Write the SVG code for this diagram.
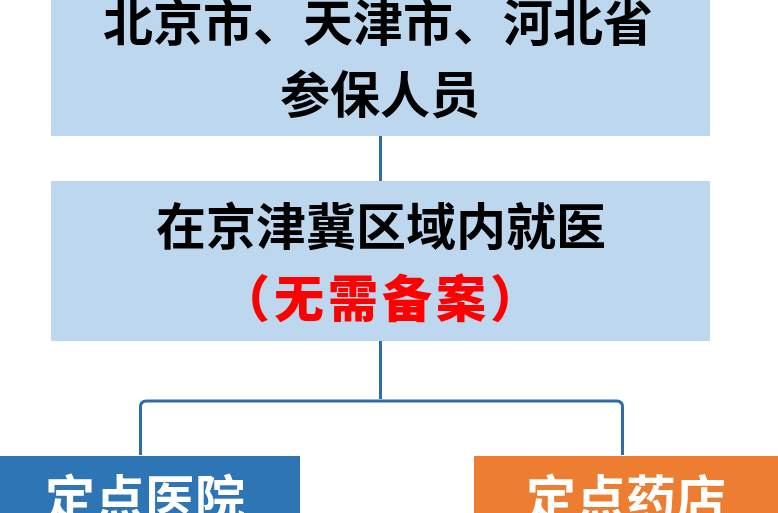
<svg xmlns="http://www.w3.org/2000/svg" width="778" height="513" viewBox="0 0 778 513">
  <style>
    .box { fill: #BDD7EE; }
    .t { font-family: "Noto Sans CJK SC", "Noto Sans", sans-serif; font-size: 50px; text-anchor: middle; font-weight: 700; }
    .blk { fill: #000000; }
    .red { fill: #FF0000; font-weight: 900; letter-spacing: 4px; }
    .wht { fill: #FFFFFF; }
    .conn { fill: none; stroke: #2E6DA8; stroke-width: 3; }
  </style>
  <rect width="778" height="513" fill="#FFFFFF"/>
  <g id="connectors">
    <line class="conn" x1="380.5" y1="136" x2="380.5" y2="181"/>
    <line class="conn" x1="380.5" y1="341" x2="380.5" y2="399"/>
    <path class="conn" d="M140.5 455 V407 Q140.5 401 146.5 401 H616.5 Q622.5 401 622.5 407 V455"/>
  </g>
  <g id="node-top">
    <rect class="box" x="51" y="0" width="659" height="136"/>
    <text class="t blk" x="378" y="41">北京市、天津市、河北省</text>
    <text class="t blk" x="380" y="113">参保人员</text>
  </g>
  <g id="node-middle">
    <rect class="box" x="51" y="181" width="659" height="160"/>
    <text class="t blk" x="381" y="245">在京津冀区域内就医</text>
    <text class="t red" x="382" y="317">（无需备案）</text>
  </g>
  <g id="node-hospital">
    <rect x="0" y="456" width="300" height="57" fill="#2E75B6"/>
    <text class="t wht" x="145" y="517">定点医院</text>
  </g>
  <g id="node-pharmacy">
    <rect x="474" y="456" width="304" height="57" fill="#ED7D31"/>
    <text class="t wht" x="626" y="517">定点药店</text>
  </g>
</svg>
